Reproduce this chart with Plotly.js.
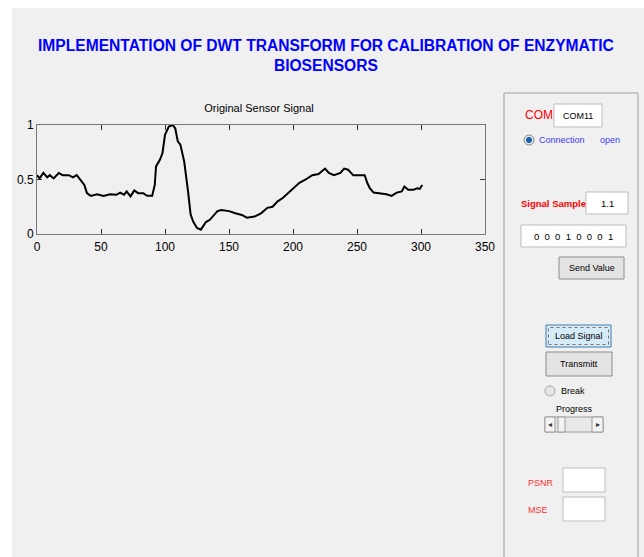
<!DOCTYPE html>
<html><head><meta charset="utf-8">
<script src="https://cdn.plot.ly/plotly-3.0.1.min.js"></script>
<style>html,body{margin:0;padding:0;background:#fff}</style>
</head><body><div id="chart" style="width:644px;height:557px"></div>
<script>
// ---- data ----
const sampleIndex = [0,2,5,8,10,13,17,20,25,28,31,34,37,39,42,47,52,57,62,65,68,70,73,76,79,83,86,90,92,93,96,98,100,103,106,108,110,112,115,118,120,122,125,128,130,132,135,138,141,144,150,155,160,164,170,175,180,184,188,192,196,200,205,210,215,220,225,228,232,237,240,243,247,252,256,258,260,263,268,273,277,281,285,287,290,294,297,299,301];
const signalValue = [0.54,0.51,0.56,0.52,0.54,0.51,0.56,0.54,0.54,0.52,0.54,0.50,0.45,0.375,0.35,0.365,0.35,0.365,0.36,0.38,0.36,0.39,0.345,0.40,0.375,0.375,0.35,0.35,0.45,0.62,0.68,0.74,0.91,0.985,1.0,0.97,0.85,0.82,0.665,0.39,0.18,0.115,0.055,0.04,0.07,0.11,0.13,0.175,0.21,0.22,0.21,0.19,0.175,0.15,0.16,0.19,0.24,0.25,0.30,0.33,0.375,0.42,0.47,0.50,0.54,0.55,0.60,0.56,0.54,0.56,0.60,0.59,0.54,0.54,0.54,0.47,0.42,0.38,0.375,0.365,0.35,0.38,0.39,0.435,0.405,0.405,0.42,0.415,0.45];
const xTicks = [0,50,100,150,200,250,300,350];
const yTicks = [0,0.5,1];
const mainTitle = "IMPLEMENTATION OF DWT TRANSFORM FOR CALIBRATION OF ENZYMATIC<br>BIOSENSORS";
const plotTitle = "Original Sensor Signal";

// ---- pixel helpers for GUI decorations ----
const W=644,H=557,ML=37,MR=159,MT=125,MB=323;
const PW=W-ML-MR, PH=H-MT-MB;
const px = x => (x-ML)/PW;
const py = y => (H-MB-y)/PH;
const FONT = "Liberation Sans, Arial, sans-serif";

const shapes = [];
const annotations = [];
function rect(x0,y0,x1,y1,fill,line,lw,layer){
  shapes.push({type:'rect',xref:'paper',yref:'paper',x0:px(x0),x1:px(x1),y0:py(y1),y1:py(y0),
    fillcolor:fill,line:{color:line||'rgba(0,0,0,0)',width:lw===undefined?1:lw},layer:layer||'above'});
}
function circ(cx,cy,r,fill,line){
  shapes.push({type:'circle',xref:'paper',yref:'paper',x0:px(cx-r),x1:px(cx+r),y0:py(cy+r),y1:py(cy-r),
    fillcolor:fill,line:{color:line,width:1}});
}
function txt(x,y,t,size,color,anchor,bold){
  annotations.push({xref:'paper',yref:'paper',x:px(x),y:py(y),text:bold?'<b>'+t+'</b>':t,showarrow:false,
    xanchor:anchor||'center',yanchor:'middle',font:{family:FONT,size:size,color:color}});
}

// figure background
rect(12,8,W+2,H+2,'#f0f0f0',null,0,'below');
// right panel
rect(504,93,638,H+5,'rgba(0,0,0,0)','#a0a0a0',1);
// COM
txt(523,115,'COM',12,'#ff0000','left');
rect(554,104,602,127,'#ffffff','#bdbdbd',1);
txt(578,115.5,'COM11',9,'#000000');
circ(529,140,5,'#dfe6ee','#8a8a8a');
circ(529,140,2.6,'#1c5fa8','#1c5fa8');
txt(537,140,'Connection',9,'#3a3aff','left');
txt(598,140,'open',9,'#3a3aff','left');
// Signal sample
txt(519,203,'Signal Sample',9.5,'#ff0000','left',true);
rect(586,192,628,214,'#ffffff','#bdbdbd',1);
txt(607,203,'1.1',9.5,'#000000');
rect(521,225,626,247,'#ffffff','#bdbdbd',1);
txt(573.5,236,'0&nbsp; 0&nbsp; 0&nbsp; 1&nbsp; 0&nbsp; 0&nbsp; 0&nbsp; 1',9.5,'#000000');
rect(559,257,624,279,'#e4e4e4','#8c8c8c',1);
txt(591.5,268,'Send Value',9,'#000000');
// Load / Transmit
rect(546,325,611,347,'#d6ebf8','#3d7bad',1);
rect(548.5,327.5,608.5,344.5,'rgba(0,0,0,0)','#555555',0.8);
shapes[shapes.length-1].line.dash='dot';
txt(578.5,336,'Load Signal',9,'#000000');
rect(546,352,612,376,'#e4e4e4','#8c8c8c',1);
txt(579,364,'Transmitt',9,'#000000');
circ(550,391,5,'#e6e6e6','#a8a8a8');
txt(559,391,'Break',9,'#000000','left');
txt(574,409,'Progress',9,'#000000');
// slider
rect(545,417,603,432,'#e8e8e8','#9a9a9a',1);
rect(545,417,555,432,'#f4f4f4','#9a9a9a',1);
rect(592,417,603,432,'#f4f4f4','#9a9a9a',1);
rect(558,417,565,432,'#f4f4f4','#9a9a9a',1);
txt(550,424.5,'◂',8,'#333333');
txt(597.5,424.5,'▸',8,'#333333');
// PSNR / MSE
txt(526,483,'PSNR',9,'#ff3030','left');
rect(563,468,605,492,'#ffffff','#bdbdbd',1);
txt(526,510,'MSE',9,'#ff3030','left');
rect(563,497,605,521,'#ffffff','#bdbdbd',1);
// main title
annotations.push({xref:'paper',yref:'paper',x:px(326),y:py(55),text:'<b>'+mainTitle+'</b>',showarrow:false,
  xanchor:'center',yanchor:'middle',align:'center',font:{family:FONT,size:15.6,color:'#0000ff'}});

const trace = {x:sampleIndex,y:signalValue,type:'scatter',mode:'lines',line:{color:'#000000',width:2},hoverinfo:'skip'};

const layout = {
  width:W,height:H,margin:{l:ML,r:MR,t:MT,b:MB,pad:0},
  paper_bgcolor:'#ffffff',plot_bgcolor:'#ffffff',showlegend:false,
  title:{text:plotTitle,xref:'paper',x:px(259),y:1-108/H,yref:'container',xanchor:'center',yanchor:'middle',
    font:{family:FONT,size:11,color:'#000000'}},
  xaxis:{range:[0,350],tickvals:xTicks,ticktext:xTicks.map(String),ticks:'inside',ticklen:5,tickcolor:'#333',
    showline:true,linecolor:'#777',mirror:'ticks',showgrid:false,zeroline:false,ticklabelstandoff:2,
    tickfont:{family:FONT,size:12,color:'#000'},fixedrange:true},
  yaxis:{range:[0,1],tickvals:yTicks,ticktext:['0','0.5','1'],ticks:'inside',ticklen:5,tickcolor:'#333',
    showline:true,linecolor:'#777',mirror:'ticks',showgrid:false,zeroline:false,
    tickfont:{family:FONT,size:12,color:'#000'},fixedrange:true},
  shapes:shapes,annotations:annotations
};
Plotly.newPlot('chart',[trace],layout,{staticPlot:true,displayModeBar:false});
</script></body></html>
